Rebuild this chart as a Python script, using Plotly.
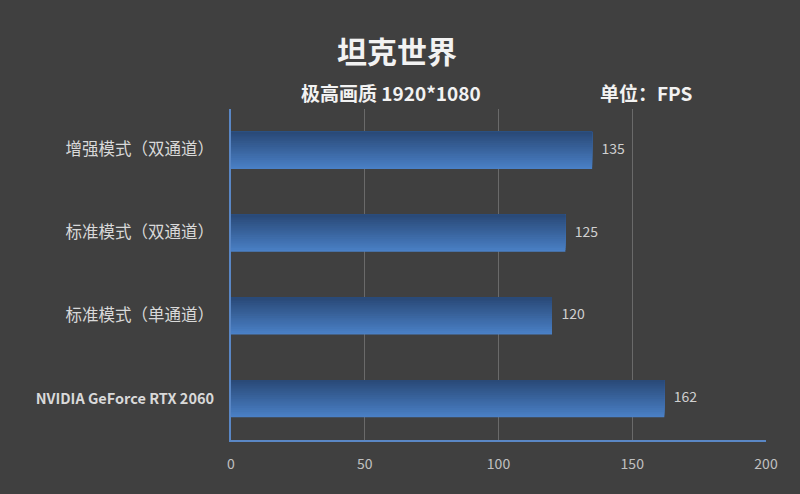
import plotly.graph_objects as go

# categories listed from bottom to top (plotly draws the first one at the bottom)
categories = ['NVIDIA GeForce RTX 2060', '标准模式（单通道）', '标准模式（双通道）', '增强模式（双通道）']
fps = [162, 120, 125, 135]
x_ticks = [0, 50, 100, 150, 200]

title = '坦克世界'
subtitle = '极高画质 1920*1080'
unit = '单位：FPS'

bg = '#404040'
cjk = 'Noto Sans CJK SC'

W, H = 800, 494
M = dict(l=231, r=34, t=109, b=54)

# fake a vertical gradient: stack bars that start lower-to-higher, dark at top, light at bottom
bar_w = 0.45
n_strips = 20
c_bottom = (74, 128, 198)
c_top = (42, 74, 120)

fig = go.Figure()
for i in range(n_strips):
    t = i / (n_strips - 1)
    r, g, b = [int(c_bottom[k] + (c_top[k] - c_bottom[k]) * t) for k in range(3)]
    fig.add_trace(go.Bar(
        x=fps, y=categories, orientation='h',
        width=bar_w - i * bar_w / n_strips,
        offset=-bar_w / 2 + i * bar_w / n_strips,
        marker=dict(color=f'rgb({r},{g},{b})', line=dict(width=0)),
        hoverinfo='skip', showlegend=False,
    ))

# value labels at the end of each bar
fig.add_trace(go.Scatter(
    x=fps, y=categories, mode='text',
    text=['   ' + str(v) for v in fps], textposition='middle right',
    textfont=dict(family=cjk, size=14, color='#d0d0d0'),
    hoverinfo='skip', showlegend=False,
))


def header(text, px, py, size):
    # pixel position -> paper coords
    return dict(text=f'<b>{text}</b>', xref='paper', yref='paper',
                x=(px - M['l']) / (W - M['l'] - M['r']),
                y=(H - M['b'] - py) / (H - M['t'] - M['b']),
                xanchor='center', yanchor='middle', showarrow=False,
                font=dict(size=size, color='#f2f2f2'))


# latin label is bold, the chinese ones a bit larger and lighter
tick_text = []
for c in categories:
    if c.isascii():
        tick_text.append(f'<b>{c}</b>')
    else:
        tick_text.append(f'<span style="font-size:16.5px">{c}</span>')

fig.update_layout(
    width=W, height=H,
    paper_bgcolor=bg, plot_bgcolor=bg,
    barmode='overlay',
    margin=M,
    font=dict(family=cjk, color='#d9d9d9'),
    annotations=[
        header(title, 397, 50, 30),
        header(subtitle, 391, 92, 19),
        header(unit, 646, 92, 19),
    ],
    xaxis=dict(
        range=[0, 200], tickvals=x_ticks, showgrid=True, gridcolor='#6a6a6a', gridwidth=1,
        zeroline=False, showline=True, linecolor='#5a87c5', linewidth=1.5,
        tickfont=dict(size=14, color='#c0c0c0'), ticks='', ticklabelstandoff=10,
    ),
    yaxis=dict(
        showgrid=False, zeroline=False, showline=True, linecolor='#5a87c5', linewidth=2,
        tickvals=categories, ticktext=tick_text,
        tickfont=dict(size=14.5, color='#d9d9d9'), ticks='', ticklabelstandoff=12,
        range=[-0.5, 3.5],
    ),
)

fig.write_html('out.html', config={'displayModeBar': False},
               post_script="document.body.style.margin='0';")
